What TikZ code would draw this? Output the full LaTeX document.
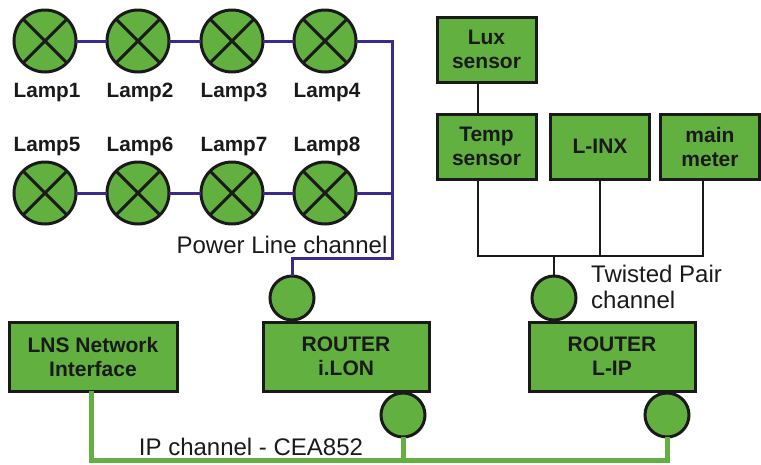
\documentclass[tikz,border=0pt]{standalone}
\usepackage{fontspec}
\setmainfont{Liberation Sans}
\definecolor{devgreen}{HTML}{62B140}
\definecolor{plwire}{HTML}{3B2A8C}
\definecolor{inkblack}{HTML}{1A1A1A}
\tikzset{
  lamp/.style={circle, draw=inkblack, line width=3pt, fill=devgreen, inner sep=0pt, outer sep=0pt, minimum size=62pt,
    path picture={\draw[inkblack, line width=3pt] (path picture bounding box.north west) -- (path picture bounding box.south east)
      (path picture bounding box.north east) -- (path picture bounding box.south west);}},
  port/.style={circle, draw=inkblack, line width=3pt, fill=devgreen, inner sep=0pt, outer sep=0pt, minimum size=44pt},
  device/.style={draw=inkblack, line width=3pt, fill=devgreen, inner sep=0pt, outer sep=0pt, align=center,
    text=inkblack, font=\bfseries\fontsize{21}{24}\selectfont},
  lamplabel/.style={anchor=base, inner sep=0pt, text=inkblack, font=\bfseries\fontsize{20.7}{24}\selectfont},
  chlabel/.style={anchor=base, inner sep=0pt, align=left, text=inkblack, font=\fontsize{24}{26.5}\selectfont},
  plline/.style={draw=plwire, line width=3pt},
  tpline/.style={draw=inkblack, line width=2.6pt},
  ipline/.style={draw=devgreen, line width=5pt}
}
\begin{document}
\begin{tikzpicture}[x=1pt,y=-1pt]
    \useasboundingbox (0,0) rectangle (761,464);

    % --- Coordinates ---
    \coordinate (PLtop) at (392,41);
    \coordinate (PLmid) at (392,193);
    \coordinate (PLlow) at (392,258);
    \coordinate (TPa) at (478,256);
    \coordinate (TPb) at (600,256);
    \coordinate (TPc) at (703,256);
    \coordinate (TPd) at (554,256);
    \coordinate (IPa) at (91,460);
    \coordinate (IPb) at (403,460);
    \coordinate (IPc) at (667,460);

    % --- Lamps ---
    \node[lamp] (lamp1) at (45,41) {};
    \node[lamp] (lamp2) at (138,41) {};
    \node[lamp] (lamp3) at (232,41) {};
    \node[lamp] (lamp4) at (325,41) {};
    \node[lamp] (lamp5) at (45,193) {};
    \node[lamp] (lamp6) at (138,193) {};
    \node[lamp] (lamp7) at (232,193) {};
    \node[lamp] (lamp8) at (325,193) {};

    % --- Lamp Labels ---
    \node[lamplabel] (txt1) at (47,97) {Lamp1};
    \node[lamplabel] (txt2) at (140,97) {Lamp2};
    \node[lamplabel] (txt3) at (234,97) {Lamp3};
    \node[lamplabel] (txt4) at (327,97) {Lamp4};
    \node[lamplabel] (txt5) at (47,151) {Lamp5};
    \node[lamplabel] (txt6) at (140,151) {Lamp6};
    \node[lamplabel] (txt7) at (234,151) {Lamp7};
    \node[lamplabel] (txt8) at (327,151) {Lamp8};

    % --- Devices ---
    \node[device, minimum width=99pt, minimum height=65pt] (lux) at (486.5,49.5) {Lux\\sensor};
    \node[device, minimum width=99pt, minimum height=65pt] (temp) at (486.5,146.5) {Temp\\sensor};
    \node[device, minimum width=99pt, minimum height=65pt] (linx) at (600,146.5) {L-INX};
    \node[device, minimum width=99pt, minimum height=65pt] (meter) at (710,146.5) {main\\meter};
    \node[device, minimum width=168pt, minimum height=69pt] (lns) at (93,356.5) {LNS Network\\Interface};
    \node[device, minimum width=166pt, minimum height=69pt] (ilon) at (346,356.5) {ROUTER\\i.LON};
    \node[device, minimum width=166pt, minimum height=69pt] (lip) at (612,356.5) {ROUTER\\L-IP};

    % --- Ports ---
    \node[port] (portA) at (292,298) {};
    \node[port] (portB) at (554,298) {};
    \node[port] (portC) at (403,415) {};
    \node[port] (portD) at (667,415) {};

    % --- Power Line channel ---
    \draw[plline] (lamp1) -- (lamp2);
    \draw[plline] (lamp2) -- (lamp3);
    \draw[plline] (lamp3) -- (lamp4);
    \draw[plline] (lamp5) -- (lamp6);
    \draw[plline] (lamp6) -- (lamp7);
    \draw[plline] (lamp7) -- (lamp8);
    \draw[plline] (lamp8) -- (PLmid);
    \draw[plline] (lamp4) -- (PLtop) -- (PLlow) -- (PLlow -| portA) -- (portA);

    % --- Twisted Pair channel ---
    \draw[tpline] (lux.south -| TPa) -- (temp.north -| TPa);
    \draw[tpline] (temp.south -| TPa) -- (TPa) -- (TPc) -- (meter.south -| TPc);
    \draw[tpline] (linx.south -| TPb) -- (TPb);
    \draw[tpline] (TPd) -- (portB);

    % --- IP channel ---
    \draw[ipline] (lns.south -| IPa) -- (IPa) -- (IPc) -- (portD);
    \draw[ipline] (IPb) -- (portC);

    % --- Channel Labels ---
    \node[chlabel, anchor=base west] (tlabel) at (591,308.5) {Twisted Pair\\channel};
    \node[chlabel] (plabel) at (282,253) {Power Line channel};
    \node[chlabel] (ilabel) at (251,455) {IP channel - CEA852};

\end{tikzpicture}
\end{document}
